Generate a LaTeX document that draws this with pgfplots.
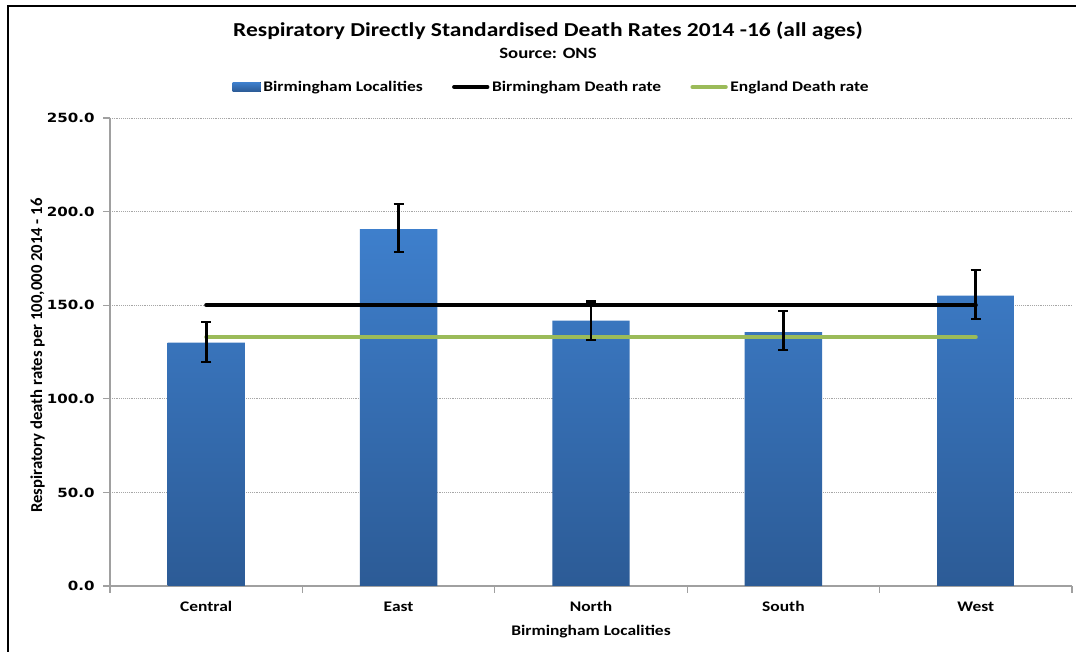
\documentclass[border=0pt]{standalone}
\usepackage{fontspec}
\setmainfont{Carlito}[FakeStretch=1.19]
\newfontfamily\ylabfont{Carlito}
\newfontfamily\tickfont{DejaVu Sans}[FakeStretch=1.19]
\usepackage{pgfplots}
\pgfplotsset{compat=1.18}
\usepackage{pgfplotstable}
\definecolor{barTop}{RGB}{62,127,204}
\definecolor{barBot}{RGB}{44,91,150}
\definecolor{engGreen}{RGB}{155,187,89}
\definecolor{axGray}{RGB}{160,160,160}

\pgfplotstableread{
x y ep em
0 130.0 10.9 10.3
1 190.6 13.5 12.3
2 141.8 10.1 10.3
3 135.6 11.4 9.5
4 155.1 13.8 12.6
}\bars

\begin{document}
\begin{tikzpicture}
\useasboundingbox (0,0) rectangle (807pt,489pt);
\fill[white] (0,0) rectangle (807pt,489pt);
\draw[line width=1.5pt] (6pt,0) -- (6pt,484.5pt) -- (807pt,484.5pt);
\node[font=\bfseries\fontsize{14.8}{17}\selectfont] at (411pt,465.5pt) {Respiratory Directly Standardised Death Rates 2014 -16 (all ages)};
\node[font=\bfseries\fontsize{11.8}{14}\selectfont] at (411pt,449.25pt) {Source: ONS};
\begin{axis}[
  scale only axis, width=721.5pt, height=351pt,
  at={(82.5pt,49.5pt)}, anchor=south west,
  xmin=-0.5, xmax=4.5, ymin=0, ymax=250,
  xtick={-0.5,0.5,1.5,2.5,3.5,4.5},
  xticklabels={Central,East,North,South,West,{}},
  ytick={0,50,100,150,200,250},
  axis x line*=bottom, axis y line*=left,
  axis line style={axGray,-, line width=0.8pt},
  tick align=outside, major tick length=5pt,
  tick style={axGray, line width=0.8pt},
  ymajorgrids, grid style={densely dotted, gray!70, line width=0.5pt},
  tick label style={font=\tickfont\bfseries\fontsize{9.5}{11}\selectfont},
  yticklabel style={/pgf/number format/.cd, fixed, fixed zerofill, precision=1, assume math mode=true, /tikz/.cd, xshift=-3pt},
  xticklabel style={font=\bfseries\fontsize{11}{13}\selectfont, xshift=72.15pt, yshift=-3pt, text height=1.6ex, text depth=0.4ex},
  xlabel={Birmingham Localities},
  xlabel style={at={(axis description cs:0.5,-0.098)}, anchor=center, font=\bfseries\fontsize{11}{13}\selectfont},
  ylabel={Respiratory death rates per 100,000 2014 - 16},
  ylabel style={at={(axis description cs:-0.0754,0.4925)}, anchor=center, font=\ylabfont\bfseries\fontsize{12.5}{14}\selectfont},
  legend style={at={(axis description cs:0.4595,1.0662)}, anchor=center, draw=none, fill=none,
    legend columns=3, font=\bfseries\fontsize{11}{13}\selectfont,
    /tikz/every even column/.append style={column sep=20pt}},
]
\addplot[ybar, bar width=58pt, draw=none, top color=barTop, bottom color=barBot,
  legend image code/.code={\fill[top color=barTop, bottom color=barBot] (0pt,-3.4pt) rectangle (21pt,3.4pt);}]
  table[x=x,y=y]{\bars};
\addplot[black, line width=3pt, line cap=round,
  legend image code/.code={\draw[black, line width=3pt] (0pt,0pt) -- (25pt,0pt);}]
  coordinates {(0,150) (4,150)};
\addplot[engGreen, line width=3pt, line cap=round,
  legend image code/.code={\draw[engGreen, line width=3pt] (0pt,0pt) -- (25pt,0pt);}]
  coordinates {(0,133) (4,133)};
\addplot[draw=none, mark=none, forget plot,
  error bars/.cd, y dir=both, y explicit,
  error bar style={draw=black, line width=2pt},
  error mark options={draw=black, rotate=90, mark size=3.8pt, line width=1.8pt}]
  table[x=x, y=y, y error plus=ep, y error minus=em]{\bars};
\legend{Birmingham Localities, Birmingham Death rate, England Death rate}
\end{axis}
\end{tikzpicture}
\end{document}
